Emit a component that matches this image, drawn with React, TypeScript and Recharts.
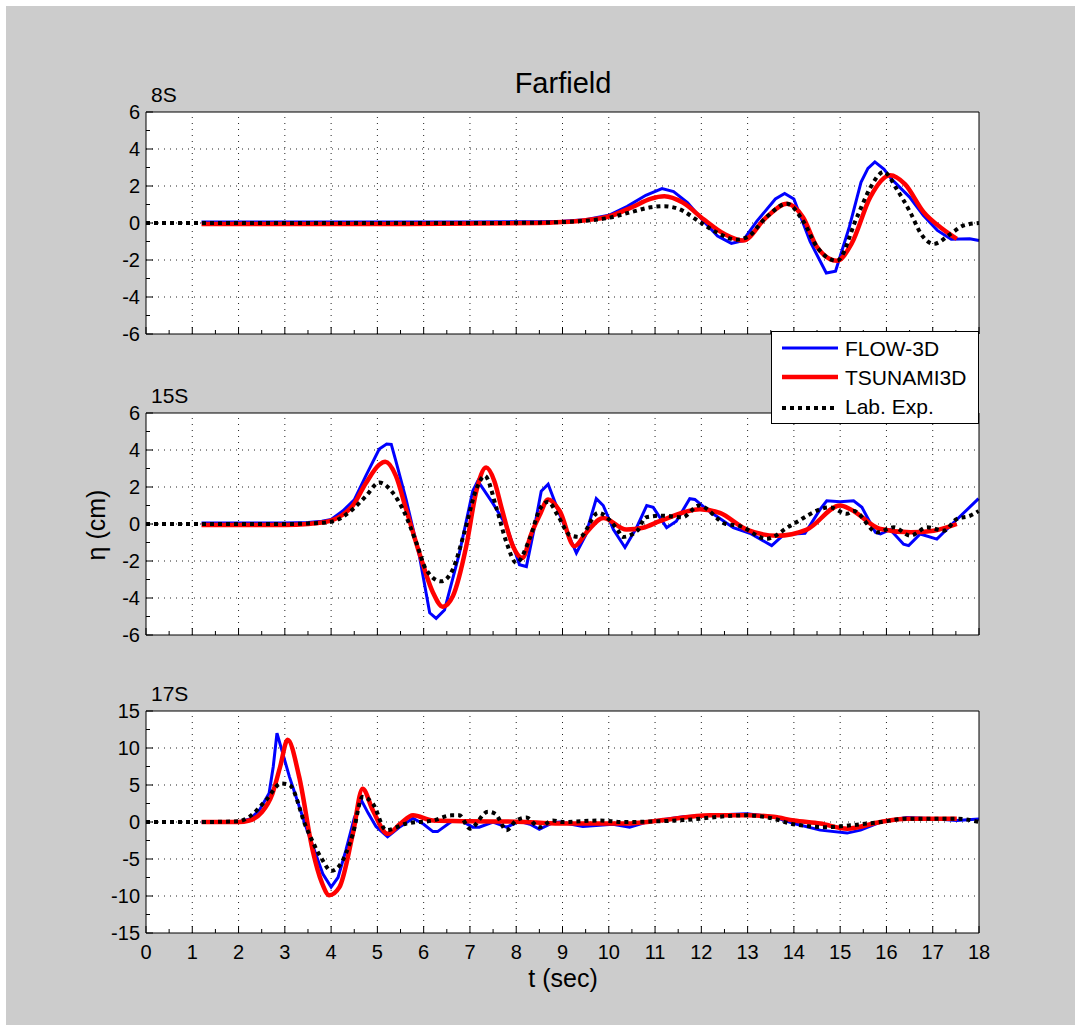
import React from "react";
import { LineChart, Line, XAxis, YAxis, ReferenceLine, CartesianGrid } from "recharts";

type Pt = [number, number];

const FONT = '"Liberation Sans", Arial, Helvetica, sans-serif';

// time axis
const timeTicks = [0, 0.5, 1, 1.5, 2, 2.5, 3, 3.5, 4, 4.5, 5, 5.5, 6, 6.5, 7, 7.5, 8, 8.5, 9, 9.5, 10, 10.5, 11, 11.5, 12, 12.5, 13, 13.5, 14, 14.5, 15, 15.5, 16, 16.5, 17, 17.5, 18];
const timeGrid = [1, 2, 3, 4, 5, 6, 7, 8, 9, 10, 11, 12, 13, 14, 15, 16, 17];

// y axes
const ticks8S = [-6, -5, -4, -3, -2, -1, 0, 1, 2, 3, 4, 5, 6];
const ticks15S = [-6, -5, -4, -3, -2, -1, 0, 1, 2, 3, 4, 5, 6];
const ticks17S = [-15, -12.5, -10, -7.5, -5, -2.5, 0, 2.5, 5, 7.5, 10, 12.5, 15];

// gauge 8S
const flow8S: Pt[] = [[1.2, 0.05], [3, 0.05], [5, 0.05], [7, 0.05], [8.5, 0.07], [9, 0.1], [9.5, 0.18], [10, 0.42], [10.4, 0.9], [10.8, 1.5], [11.15, 1.86], [11.4, 1.7], [11.7, 1.1], [12.05, 0.1], [12.35, -0.7], [12.65, -1.1], [12.9, -0.95], [13.2, 0.1], [13.6, 1.3], [13.8, 1.6], [14.0, 1.3], [14.35, -1.0], [14.7, -2.7], [14.9, -2.6], [15.2, -0.2], [15.45, 2.2], [15.6, 2.95], [15.75, 3.3], [15.95, 2.9], [16.1, 2.4], [16.5, 1.4], [16.8, 0.4], [17.1, -0.4], [17.4, -0.88], [17.8, -0.85], [18, -0.95]];
const tsunami8S: Pt[] = [[1.2, -0.05], [5, -0.05], [8.5, 0], [9, 0.05], [9.5, 0.15], [10, 0.35], [10.5, 0.85], [10.9, 1.3], [11.2, 1.44], [11.6, 1.1], [12.05, 0.2], [12.5, -0.6], [12.9, -0.95], [13.4, 0.3], [13.85, 1.04], [14.2, 0.3], [14.5, -1.3], [14.93, -2.04], [15.25, -1.1], [15.65, 1.4], [16.08, 2.58], [16.4, 2.1], [16.8, 0.6], [17.2, -0.3], [17.52, -0.86]];
const lab8S: Pt[] = [[0, 0], [1.2, 0], [3, 0], [5, 0], [7, 0], [8.5, 0.02], [9, 0.05], [9.5, 0.12], [10, 0.28], [10.5, 0.6], [10.9, 0.85], [11.2, 0.91], [11.5, 0.77], [12, 0.0], [12.4, -0.6], [12.76, -0.9], [13.0, -0.75], [13.4, 0.3], [13.85, 1.04], [14.2, 0.1], [14.5, -1.3], [14.93, -2.04], [15.36, 0.3], [15.65, 1.9], [15.94, 2.76], [16.23, 1.8], [16.52, 0.55], [16.75, -0.6], [17.02, -1.13], [17.38, -0.6], [17.67, -0.13], [18, 0]];

// gauge 15S
const flow15S: Pt[] = [[1.2, 0.05], [3, 0.05], [3.5, 0.08], [3.8, 0.15], [4.0, 0.25], [4.25, 0.7], [4.5, 1.3], [4.75, 2.6], [5.04, 4.05], [5.2, 4.32], [5.3, 4.3], [5.4, 3.4], [5.62, 1.33], [5.91, -1.75], [6.13, -4.8], [6.27, -5.1], [6.45, -4.65], [6.77, -1.6], [7.06, 1.78], [7.17, 2.33], [7.5, 1.1], [7.79, -0.1], [8.07, -2.2], [8.22, -2.3], [8.4, -0.1], [8.54, 1.77], [8.69, 2.15], [8.94, 0.5], [9.3, -1.57], [9.5, -0.6], [9.73, 1.37], [9.88, 1.0], [10.1, -0.3], [10.35, -1.27], [10.6, -0.2], [10.82, 1.0], [10.96, 0.9], [11.25, -0.2], [11.46, 0.15], [11.75, 1.37], [11.86, 1.33], [12.11, 0.8], [12.69, -0.2], [13.05, -0.5], [13.52, -1.17], [13.77, -0.6], [13.99, -0.54], [14.24, -0.5], [14.57, 0.8], [14.71, 1.25], [15.0, 1.2], [15.29, 1.25], [15.47, 0.9], [15.76, -0.45], [15.87, -0.54], [16.08, -0.3], [16.37, -1.09], [16.48, -1.17], [16.73, -0.54], [17.09, -0.82], [17.42, 0], [17.99, 1.37]];
const tsunami15S: Pt[] = [[1.2, -0.05], [3, -0.05], [3.5, 0], [3.8, 0.08], [4.0, 0.18], [4.25, 0.5], [4.47, 1.0], [4.75, 2.2], [5.04, 3.2], [5.17, 3.36], [5.4, 2.6], [5.62, 0.8], [5.91, -1.6], [6.2, -3.7], [6.41, -4.47], [6.63, -3.9], [6.92, -1.2], [7.14, 1.8], [7.35, 3.05], [7.53, 2.3], [7.69, 0.8], [7.93, -1.2], [8.13, -1.84], [8.33, -0.5], [8.51, 0.5], [8.69, 1.33], [8.94, 0.7], [9.26, -1.2], [9.52, -0.45], [9.88, 0.33], [10.38, -0.3], [10.74, -0.2], [11.1, 0.15], [11.97, 0.8], [12.4, 0.6], [12.98, -0.3], [13.63, -0.63], [14.28, -0.3], [15.0, 1.0], [15.22, 0.8], [15.87, -0.27], [16.52, -0.45], [17.02, -0.36], [17.52, 0]];
const lab15S: Pt[] = [[0, 0], [1.2, 0], [3, 0], [3.5, 0.03], [4.0, 0.12], [4.47, 0.8], [4.75, 1.5], [5.04, 2.24], [5.33, 1.7], [5.55, 0.8], [5.84, -1.0], [6.05, -2.45], [6.38, -3.1], [6.63, -2.45], [6.88, -0.45], [7.14, 1.9], [7.32, 2.6], [7.58, 0.8], [7.79, -1.0], [8.0, -2.1], [8.29, -0.8], [8.51, 0.8], [8.69, 1.2], [8.9, 0.45], [9.16, -0.6], [9.37, -0.7], [9.77, 0.6], [10.2, -0.35], [10.3, -0.7], [10.62, -0.35], [10.8, 0.36], [11.16, 0.45], [11.59, 0.36], [11.95, 1.0], [12.53, 0], [12.82, -0.1], [13.41, -0.8], [13.92, -0.1], [14.78, 0.9], [15.14, 0.55], [15.29, 0.7], [15.8, -0.45], [16.16, -0.18], [16.52, -0.63], [16.88, -0.18], [17.24, -0.36], [17.52, 0.27], [17.81, 0.45], [17.99, 0.7]];

// gauge 17S
const flow17S: Pt[] = [[1.2, 0], [2.0, 0], [2.25, 0.4], [2.45, 1.6], [2.66, 3.9], [2.75, 7.5], [2.83, 12], [3.1, 6.1], [3.46, -0.7], [3.82, -7], [4.0, -8.8], [4.15, -7.5], [4.32, -3.8], [4.5, 0.5], [4.65, 3.0], [4.8, 1.2], [4.97, -0.6], [5.22, -2.0], [5.5, -0.6], [5.77, 0.5], [6.0, -0.3], [6.2, -1.3], [6.3, -1.3], [6.63, 0.2], [6.8, 0.2], [7.06, -0.7], [7.2, -0.7], [7.5, 0], [7.79, -0.7], [8.07, 0.1], [8.3, -0.3], [8.5, -1.0], [8.79, -0.1], [8.94, 0], [9.44, -0.6], [10.09, -0.3], [10.45, -0.7], [10.82, 0], [11.61, 0.7], [12.19, 0.9], [12.98, 1.1], [13.56, 0.7], [14.0, -0.2], [14.57, -1.1], [15.15, -1.5], [15.44, -1.1], [15.87, 0], [16.44, 0.6], [17.02, 0.45], [17.52, 0.2], [18, 0.4]];
const tsunami17S: Pt[] = [[1.2, 0], [2.0, 0], [2.23, 0.2], [2.5, 1.3], [2.73, 3.8], [2.9, 7.5], [3.06, 11.1], [3.31, 6.1], [3.6, -3.8], [3.8, -8.2], [3.96, -9.9], [4.18, -8.8], [4.47, -1.6], [4.68, 4.5], [4.9, 1.6], [5.22, -1.6], [5.5, -0.2], [5.77, 0.9], [6.2, 0.2], [7, 0.1], [8, 0.05], [8.94, -0.2], [10.38, -0.2], [11.1, 0.2], [12.19, 0.9], [12.98, 0.9], [13.56, 0.7], [14.0, 0.2], [14.57, -0.2], [15.15, -0.9], [15.87, 0], [16.44, 0.45], [17.52, 0.45]];
const lab17S: Pt[] = [[0, 0], [1.2, 0], [2.0, 0.1], [2.23, 0.7], [2.6, 3.0], [2.92, 5.2], [3.1, 5.0], [3.46, -0.7], [3.8, -5.0], [4.0, -6.6], [4.18, -5.9], [4.47, -1.6], [4.68, 3.4], [4.9, 2.5], [5.19, -1.1], [5.63, -0.2], [6.2, 0.2], [6.6, 0.9], [6.77, 0.9], [7.0, -0.9], [7.39, 1.4], [7.55, 1.1], [7.79, -1.1], [8.0, 0.2], [8.22, 0.6], [8.5, -0.7], [8.79, 0.2], [9.0, 0], [9.81, 0.2], [10.3, 0], [11.46, 0.2], [12.98, 0.9], [13.56, 0.45], [13.92, -0.2], [14.71, -0.7], [15.22, -0.45], [15.87, 0], [16.44, 0.45], [17.52, 0.45], [18, 0]];

const toRows = (pts: Pt[]) => pts.map(([t, v]) => ({ t, v }));

const isMajor = (v: number, step: number) => Math.abs(v / step - Math.round(v / step)) < 1e-6;

const xTick = (dir: number, labels: boolean) => (props: any) => {
  const { x, y, payload } = props;
  const major = isMajor(payload.value, 1);
  return (
    <g>
      <line x1={x} x2={x} y1={y} y2={y + dir * (major ? 7 : 4)} stroke="#000" />
      {labels && major && (
        <text x={x} y={y + 26} textAnchor="middle" fontSize={20} fontFamily={FONT} fill="#000">
          {payload.value}
        </text>
      )}
    </g>
  );
};

const yTick = (dir: number, step: number, labels: boolean) => (props: any) => {
  const { x, y, payload } = props;
  const major = isMajor(payload.value, step);
  return (
    <g>
      <line x1={x} x2={x + dir * (major ? 7 : 4)} y1={y} y2={y} stroke="#000" />
      {labels && major && (
        <text x={x - 6} y={y + 7} textAnchor="end" fontSize={20} fontFamily={FONT} fill="#000">
          {payload.value}
        </text>
      )}
    </g>
  );
};

interface PanelProps {
  top: number;
  yTicks: number[];
  majorStep: number;
  flow: Pt[];
  tsunami: Pt[];
  lab: Pt[];
  xLabels: boolean;
}

function Panel({ top, yTicks, majorStep, flow, tsunami, lab, xLabels }: PanelProps) {
  const dom: [number, number] = [yTicks[0], yTicks[yTicks.length - 1]];
  const yGrid = yTicks.filter((v) => isMajor(v, majorStep) && v !== dom[0] && v !== dom[1]);
  // axes are 1px thick so they still render; margins absorb that pixel
  return (
    <div style={{ position: "absolute", left: 0, top }}>
      <LineChart width={1075} height={302} margin={{ top: 39, right: 95, bottom: 39, left: 145 }}>
        <CartesianGrid fill="#fff" horizontal={false} vertical={false} />
        {timeGrid.map((t) => (
          <ReferenceLine key={"x" + t} xAxisId="b" yAxisId="l" x={t} stroke="#222" strokeDasharray="1 5" />
        ))}
        {yGrid.map((v) => (
          <ReferenceLine key={"y" + v} xAxisId="b" yAxisId="l" y={v} stroke="#222" strokeDasharray="1 5" />
        ))}
        <XAxis xAxisId="b" dataKey="t" type="number" domain={[0, 18]} ticks={timeTicks} interval={0}
          height={1} tickSize={0} tickMargin={0} tickLine={false} stroke="#000" tick={xTick(-1, xLabels)} />
        <XAxis xAxisId="top" orientation="top" type="number" domain={[0, 18]} ticks={timeTicks} interval={0}
          height={1} tickSize={0} tickMargin={0} tickLine={false} stroke="#000" tick={xTick(1, false)} />
        <YAxis yAxisId="l" type="number" domain={dom} ticks={yTicks} interval={0} width={1}
          tickSize={0} tickMargin={0} tickLine={false} stroke="#000" tick={yTick(1, majorStep, true)} />
        <YAxis yAxisId="r" orientation="right" type="number" domain={dom} ticks={yTicks} interval={0} width={1}
          tickSize={0} tickMargin={0} tickLine={false} stroke="#000" tick={yTick(-1, majorStep, false)} />
        <Line xAxisId="b" yAxisId="l" data={toRows(flow)} dataKey="v" type="linear" stroke="#0000ff"
          strokeWidth={3} dot={false} isAnimationActive={false} />
        <Line xAxisId="b" yAxisId="l" data={toRows(tsunami)} dataKey="v" type="monotone" stroke="#ff0000"
          strokeWidth={4.5} dot={false} isAnimationActive={false} />
        <Line xAxisId="b" yAxisId="l" data={toRows(lab)} dataKey="v" type="monotone" stroke="#000"
          strokeWidth={4} strokeDasharray="4 4" dot={false} isAnimationActive={false} />
      </LineChart>
    </div>
  );
}

export default function App() {
  const txt = { fontFamily: FONT, fill: "#000" };
  return (
    <div style={{ position: "absolute", left: 0, top: 0, width: 1075, height: 1025 }}>
      <div style={{ position: "absolute", left: 6, top: 6, width: 1069, height: 1019, background: "#cccccc" }} />
      <Panel top={72} yTicks={ticks8S} majorStep={2} flow={flow8S} tsunami={tsunami8S} lab={lab8S} xLabels={false} />
      <Panel top={373} yTicks={ticks15S} majorStep={2} flow={flow15S} tsunami={tsunami15S} lab={lab15S} xLabels={false} />
      <Panel top={671} yTicks={ticks17S} majorStep={5} flow={flow17S} tsunami={tsunami17S} lab={lab17S} xLabels={true} />
      <svg width={1075} height={1025} style={{ position: "absolute", left: 0, top: 0, pointerEvents: "none" }}>
        <text x={563} y={93} textAnchor="middle" fontSize={29} {...txt}>Farfield</text>
        <text x={151} y={102} fontSize={21} {...txt}>8S</text>
        <text x={151} y={403} fontSize={21} {...txt}>15S</text>
        <text x={151} y={701} fontSize={21} {...txt}>17S</text>
        <text x={563} y={987} textAnchor="middle" fontSize={25} {...txt}>t (sec)</text>
        <text x={105} y={525} textAnchor="middle" fontSize={25} transform="rotate(-90 105 525)" {...txt}>η (cm)</text>
        <g transform="translate(771,331)">
          <rect x={0.5} y={0.5} width={207} height={92} fill="#fff" stroke="#000" />
          <line x1={11} x2={67} y1={17} y2={17} stroke="#0000ff" strokeWidth={3} />
          <text x={74} y={25} fontSize={21} {...txt}>FLOW-3D</text>
          <line x1={11} x2={67} y1={46} y2={46} stroke="#ff0000" strokeWidth={4.5} />
          <text x={74} y={54} fontSize={21} {...txt}>TSUNAMI3D</text>
          <line x1={11} x2={67} y1={77} y2={77} stroke="#000" strokeWidth={4} strokeDasharray="4 4" />
          <text x={74} y={83} fontSize={21} {...txt}>Lab. Exp.</text>
        </g>
      </svg>
    </div>
  );
}
